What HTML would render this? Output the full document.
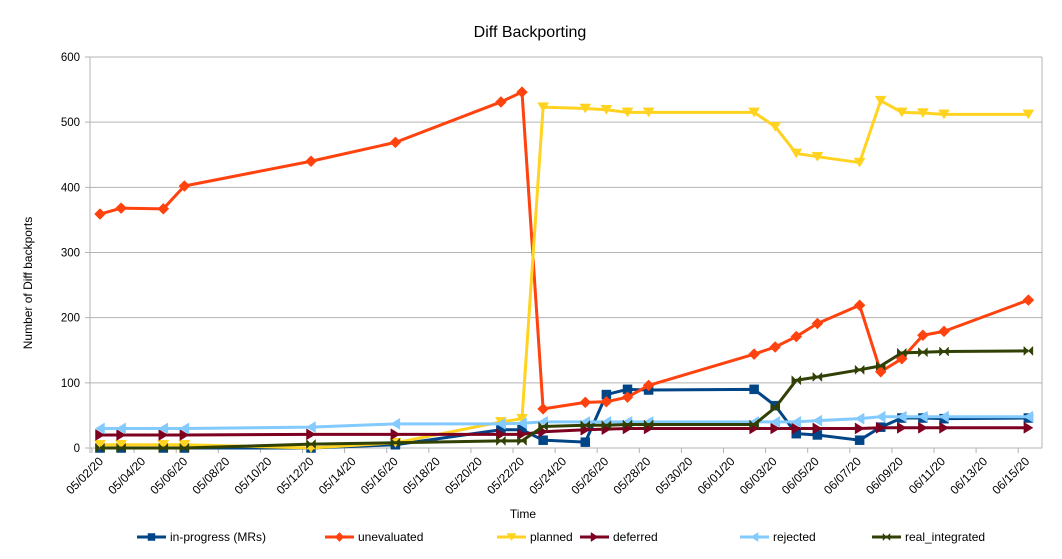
<!DOCTYPE html>
<html><head><meta charset="utf-8"><style>
html,body{margin:0;padding:0;background:#fff}
svg{display:block;font-family:"Liberation Sans",sans-serif}
</style></head><body>
<svg id="c" width="1062" height="559" xmlns="http://www.w3.org/2000/svg">
<rect width="1062" height="559" fill="#fff"/>
<text x="530" y="37" font-size="16" text-anchor="middle" fill="#000">Diff Backporting</text>
<text x="0" y="0" font-size="12" text-anchor="middle" transform="translate(32,283) rotate(-90)">Number of Diff backports</text>
<text x="523" y="518" font-size="12" text-anchor="middle">Time</text>
<g id="grid"></g><g id="ser"></g><g id="leg"></g>
</svg>
<script>
var NS="http://www.w3.org/2000/svg";
function el(p,t,a,txt){var e=document.createElementNS(NS,t);for(var k in a)e.setAttribute(k,a[k]);if(txt!=null)e.textContent=txt;p.appendChild(e);return e;}
var g=document.getElementById('grid');
function Y(v){return 448-v*0.6517;}
for(var i=0;i<=6;i++){var y=Y(i*100);el(g,'line',{x1:85,x2:1042,y1:y,y2:y,stroke:'#b3b3b3','stroke-width':1});
el(g,'text',{x:80,y:y+4,'font-size':11.5,'text-anchor':'end'},String(i*100));}
el(g,'line',{x1:90,x2:90,y1:57,y2:453,stroke:'#b3b3b3'});
el(g,'line',{x1:1042,x2:1042,y1:57,y2:448,stroke:'#b3b3b3'});
var labs=[];
for(var k=0;k<23;k++){var dd=new Date(2020,4,2+2*k);var m=('0'+(dd.getMonth()+1)).slice(-2),da=('0'+dd.getDate()).slice(-2);labs.push(m+'/'+da+'/20');}
for(var k=0;k<23;k++){var tx=92+42.1*k;el(g,'line',{x1:tx,x2:tx,y1:448,y2:453,stroke:'#b3b3b3'});
var lx=100+42.1*k+4;el(g,'text',{x:0,y:0,'font-size':12,'text-anchor':'end',transform:'translate('+lx+',462) rotate(-45)'},labs[k]);}
var days=[0,1,3,4,10,14,19,20,21,23,24,25,26,31,32,33,34,36,37,38,39,40,44];
function X(dd){return 100+21.1*dd;}
var S=[
['in-progress (MRs)','#004586','sq',[0,0,0,0,0,5,28,28,12,9,82,90,89,90,65,22,20,12,32,46,46,45,46]],
['unevaluated','#ff420e','di',[359,368,367,402,440,469,531,546,60,70,71,78,96,144,155,171,191,219,117,137,173,179,227]],
['planned','#ffd320','dn',[5,5,5,5,0,8,40,45,523,521,519,515,515,515,493,452,447,438,533,515,514,512,512]],
['deferred','#7e0021','rt',[20,20,20,20,21,21,21,21,25,28,29,30,30,30,30,30,30,30,31,31,31,31,31]],
['rejected','#83caff','lt',[30,30,30,30,32,37,37,38,40,40,40,40,40,40,40,40,42,45,48,48,48,48,48]],
['real_integrated','#314004','bt',[0,0,0,0,6,8,11,11,33,35,35,36,36,36,62,104,109,120,126,146,147,148,149]]];
function marker(p,t,x,y,c,s){
 var a={fill:c,stroke:c,'stroke-width':0.5};
 if(t=='sq'){a.x=x-s;a.y=y-s;a.width=2*s;a.height=2*s;el(p,'rect',a);return;}
 var pts;
 if(t=='di')pts=[[x,y-s-1],[x+s+1,y],[x,y+s+1],[x-s-1,y]];
 if(t=='dn')pts=[[x-s-1,y-s],[x+s+1,y-s],[x,y+s]];
 if(t=='rt')pts=[[x-s,y-s-1],[x+s,y],[x-s,y+s+1]];
 if(t=='lt')pts=[[x+s,y-s-1],[x-s,y],[x+s,y+s+1]];
 if(t=='bt')pts=[[x-s,y-s],[x+s,y+s],[x+s,y-s],[x-s,y+s]];
 a.points=pts.map(function(q){return q.join(',')}).join(' ');el(p,'polygon',a);
}
var sg=document.getElementById('ser');
S.forEach(function(s){
 var pts=days.map(function(dd,i){return X(dd)+','+Y(s[3][i]);}).join(' ');
 el(sg,'polyline',{points:pts,fill:'none',stroke:s[1],'stroke-width':3,'stroke-linejoin':'round'});
 days.forEach(function(dd,i){marker(sg,s[2],X(dd),Y(s[3][i]),s[1],4.5);});
});
var lg=document.getElementById('leg');
var lx=[137,325,497,580,740,872];
S.forEach(function(s,i){var x=lx[i];
 el(lg,'line',{x1:x,x2:x+29,y1:537,y2:537,stroke:s[1],'stroke-width':3});
 marker(lg,s[2],x+14.5,537,s[1],3.5);
 el(lg,'text',{x:x+33,y:541,'font-size':12},s[0]);});
</script>
</body></html>
